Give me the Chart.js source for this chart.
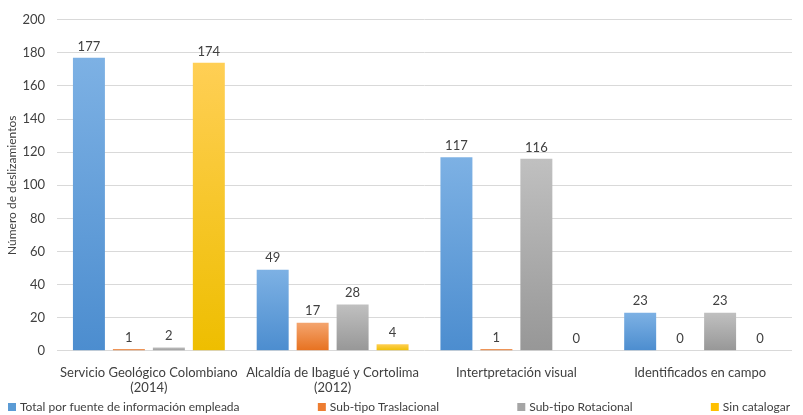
<!DOCTYPE html>
<html>
<head>
<meta charset="utf-8">
<script src="https://cdn.jsdelivr.net/npm/chart.js@4"></script>
<style>
  html, body { margin: 0; padding: 0; background: #fff; }
  #wrap { width: 803px; height: 415px; }
</style>
</head>
<body>
<div id="wrap"><canvas id="deslizChart" width="803" height="415"></canvas></div>
<script>
const categorias = [
    ['Servicio Geológico Colombiano', '(2014)'],
    ['Alcaldía de Ibagué y Cortolima', '(2012)'],
    'Intertpretación visual',
    'Identificados en campo'
];
const totalFuente = [177, 49, 117, 23];
const traslacional = [1, 17, 1, 0];
const rotacional = [2, 28, 116, 23];
const sinCatalogar = [174, 4, 0, 0];
const ticksY = [0, 20, 40, 60, 80, 100, 120, 140, 160, 180, 200];

const fuente = 'Lato, "Open Sans", sans-serif';

// degradado vertical por barra, claro arriba y oscuro abajo
function degradado(arriba, abajo) {
    return function (ctx) {
        const chart = ctx.chart;
        if (!chart.chartArea || !ctx.parsed) return abajo;
        const y = chart.scales.y;
        const y0 = y.getPixelForValue(ctx.parsed.y);
        const y1 = y.getPixelForValue(0);
        if (y1 - y0 < 2) return abajo;
        const g = chart.ctx.createLinearGradient(0, y0, 0, y1);
        g.addColorStop(0, arriba);
        g.addColorStop(1, abajo);
        return g;
    };
}

const etiquetasValor = {
    id: 'etiquetasValor',
    afterDatasetsDraw(chart) {
        const c = chart.ctx;
        c.save();
        c.font = '13px ' + fuente;
        c.fillStyle = '#404040';
        c.textAlign = 'center';
        c.textBaseline = 'bottom';
        chart.data.datasets.forEach((ds, i) => {
            chart.getDatasetMeta(i).data.forEach((bar, j) => {
                c.fillText(ds.data[j], bar.x, bar.y - 5);
            });
        });
        c.restore();
    }
};

const coloresLeyenda = ['#5b9bd5', '#ed7d31', '#a5a5a5', '#ffc000'];

// leyenda repartida a lo ancho, como en Excel
const leyendaAncha = {
    id: 'leyendaAncha',
    afterDraw(chart) {
        const c = chart.ctx;
        const izq = 8, der = 790, yc = chart.height - 8;
        c.save();
        c.font = '12px ' + fuente;
        c.textBaseline = 'middle';
        const items = chart.data.datasets.map((ds, i) => ({
            text: ds.label, color: coloresLeyenda[i],
            w: 8 + 4 + c.measureText(ds.label).width
        }));
        const suma = items.reduce((a, it) => a + it.w, 0);
        const hueco = (der - izq - suma) / (items.length - 1);
        let x = izq;
        items.forEach(it => {
            c.fillStyle = it.color;
            c.fillRect(x, yc - 4, 8, 8);
            c.fillStyle = '#404040';
            c.fillText(it.text, x + 12, yc);
            x += it.w + hueco;
        });
        c.restore();
    }
};

const deslizCtx = document.getElementById('deslizChart').getContext('2d');
const deslizChart = new Chart(deslizCtx, {
    type: 'bar',
    data: {
        labels: categorias,
        datasets: [{
            label: 'Total por fuente de información empleada',
            data: totalFuente,
            backgroundColor: degradado('#7db1e4', '#4c8dcf')
        }, {
            label: 'Sub-tipo Traslacional',
            data: traslacional,
            backgroundColor: degradado('#f4a56f', '#e7711f')
        }, {
            label: 'Sub-tipo Rotacional',
            data: rotacional,
            backgroundColor: degradado('#c0c0c0', '#979797')
        }, {
            label: 'Sin catalogar',
            data: sinCatalogar,
            backgroundColor: degradado('#ffcf55', '#eebe00')
        }]
    },
    options: {
        responsive: false,
        animation: false,
        barPercentage: 0.8,
        categoryPercentage: 0.87,
        layout: { padding: { left: 3, right: 11, top: 8, bottom: 13 } },
        scales: {
            x: {
                grid: { display: false },
                border: { display: false },
                ticks: { color: '#404040', font: { family: fuente, size: 13 }, maxRotation: 0, padding: 6 }
            },
            y: {
                min: 0,
                max: 200,
                afterBuildTicks: (axis) => { axis.ticks = ticksY.map(v => ({ value: v })); },
                afterFit: (axis) => { axis.width = 54; },
                grid: { color: '#d9d9d9', drawTicks: false },
                border: { display: false },
                ticks: { color: '#404040', font: { family: fuente, size: 13 }, padding: 12, autoSkip: false },
                title: {
                    display: true,
                    text: 'Número de deslizamientos',
                    color: '#404040',
                    font: { family: fuente, size: 12 },
                    padding: 2
                }
            }
        },
        plugins: {
            legend: { display: false },
            tooltip: { enabled: false }
        }
    },
    plugins: [etiquetasValor, leyendaAncha]
});
</script>
</body>
</html>
